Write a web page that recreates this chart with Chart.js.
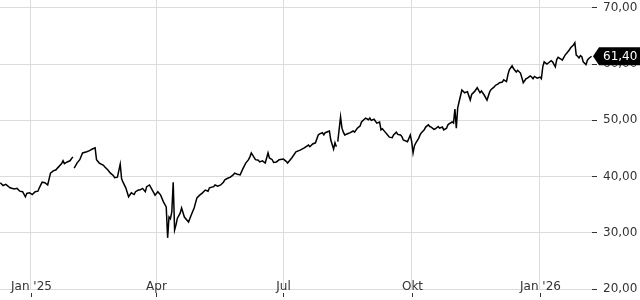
<!DOCTYPE html>
<html>
<head>
<meta charset="utf-8">
<script src="https://cdn.jsdelivr.net/npm/chart.js@4"></script>
<style>
  html, body { margin: 0; padding: 0; background: #fff; }
  canvas { display: block; }
</style>
</head>
<body>
<canvas id="chart" width="640" height="300"></canvas>
<script>
// days counted from 2025-01-01, closing prices
const dayOffsets = [
  -22, -20, -18, -15, -12, -10, -8, -6, -4, -3, -1, 1, 3, 5, 6, 8, 10, 12, 14, 16,
  18, 19, 22, 23, 24, 26, 28, 30, 30.5, 31, 33, 35, 37, 40, 42, 44, 46, 47, 49, 52,
  53, 55, 57, 59, 60, 62, 64, 65, 66, 68, 70, 72, 74, 75, 77, 78, 80, 82, 83, 85,
  87, 89, 91, 93, 95, 97, 98, 99, 100, 101, 102, 103, 104, 105, 107, 108, 110, 113, 115, 117,
  119, 121, 123, 125, 127, 128, 131, 132, 134, 136, 138, 139, 141, 143, 145, 146, 148, 150, 152, 154,
  156, 157, 158, 161, 163, 164, 166, 168, 170, 171, 173, 174, 176, 178, 181, 183, 184, 187, 190, 193,
  196, 199, 200, 202, 204, 206, 207, 209, 210, 211, 214, 215, 217, 218, 219, 219.5, 220, 222, 223, 224,
  225, 227, 229, 231, 232, 234, 236, 237, 239, 240, 242, 243, 244, 246, 248, 250, 251, 252, 254, 255,
  257, 259, 260, 262, 263, 265, 266, 267, 270, 272, 273, 274, 275, 276, 278, 279, 280, 282, 283, 285,
  286, 287, 289, 290, 292, 293, 295, 296, 298, 299, 300, 302, 303, 304, 305, 306, 307, 309, 311, 313,
  315, 316, 318, 320, 322, 323, 325, 327, 329, 330, 332, 333, 335, 336, 338, 339, 341, 342, 343, 345,
  346, 348, 349, 351, 352, 353, 355, 356, 358, 359, 360, 361, 363, 365, 366, 367, 368, 370, 371, 373,
  374, 376, 377, 378, 380, 381, 383, 384, 385, 386, 387, 389, 390, 391, 392, 393, 394, 395, 396, 398,
  399, 400, 402
];
const closes = [
  38.9, 38.4, 38.6, 38.0, 37.8, 37.9, 37.4, 37.3, 36.4, 37.0, 37.1, 36.8, 37.3, 37.4, 38.0, 39.0, 38.9, 38.5, 40.6, 41.0,
  41.2, 41.5, 42.3, 42.8, 42.3, 42.6, 42.8, 43.5, null, 41.5, 42.4, 43.0, 44.2, 44.4, 44.6, 44.9, 45.1, 43.0, 42.4, 42.0,
  41.7, 41.2, 40.6, 40.2, 39.8, 39.9, 42.2, 39.6, 39.0, 38.0, 36.4, 37.1, 36.8, 37.3, 37.6, 37.6, 37.9, 37.3, 38.2, 38.5,
  37.6, 36.7, 37.3, 36.7, 35.5, 34.6, 29.1, 32.8, 32.5, 33.7, 39.0, 30.5, 31.4, 32.6, 33.5, 34.4, 32.8, 31.9, 33.2, 34.4,
  36.2, 36.7, 37.1, 37.6, 37.4, 38.0, 38.2, 38.5, 38.3, 38.5, 39.0, 39.4, 39.7, 39.9, 40.3, 40.6, 40.4, 40.3, 41.4, 42.4,
  43.0, 43.5, 44.2, 43.0, 42.9, 42.6, 42.8, 42.4, 44.2, 43.3, 43.0, 42.5, 42.6, 43.0, 43.1, 42.7, 42.4, 43.3, 44.4, 44.7,
  45.1, 45.6, 45.3, 45.8, 46.0, 47.4, 47.6, 47.8, 47.4, 47.8, 48.1, 46.5, 44.9, 46.0, 45.3, null, 46.2, 50.6, 48.6, 47.9,
  47.4, 47.6, 47.8, 48.1, 47.9, 48.6, 49.0, 49.7, 50.2, 50.4, 50.1, 50.4, 50.0, 50.2, 49.5, 49.7, 48.3, 48.5, 47.9, 47.6,
  47.0, 46.9, 47.4, 47.9, 47.5, 47.4, 47.1, 46.5, 46.2, 47.4, 46.2, 44.2, 45.5, 46.0, 46.8, 47.4, 47.8, 48.3, 48.8, 49.2,
  48.9, 48.8, 48.4, 48.5, 48.9, 48.6, 48.8, 48.3, 48.6, 49.2, 49.4, 49.7, 49.5, 52.0, 48.6, 52.2, 53.3, 55.4, 54.9, 55.1,
  53.6, 54.6, 55.1, 55.8, 54.9, 55.2, 54.5, 53.6, 55.1, 55.5, 55.9, 56.2, 56.5, 56.7, 56.8, 57.2, 56.9, 58.1, 59.0, 59.7,
  59.2, 58.6, 58.9, 58.4, 57.6, 56.7, 57.4, 57.5, 57.9, 57.7, 57.4, 57.8, 57.5, 57.7, 57.4, 59.5, 60.4, 60.0, 60.2, 60.6,
  60.4, 59.5, 60.8, 61.2, 60.9, 60.7, 61.6, 61.9, 62.2, 62.5, 62.9, 63.4, 63.8, 61.6, 61.4, 61.1, 61.5, 61.3, 60.4, 59.9,
  60.7, 61.0, 61.4
];
const monthTicks = [0, 90, 181, 273, 365];
const monthLabels = ["Jan '25", "Apr", "Jul", "Okt", "Jan '26"];
const priceTicks = [20, 30, 40, 50, 60, 70];
const lastPrice = 61.40;

const fmt = v => v.toFixed(2).replace(".", ",");
const font = { family: "DejaVu Sans", size: 12 };

const points = dayOffsets.map((d, i) => ({ x: d, y: closes[i] }));

// month labels sit on the bottom grid line, small dark marks under them; last price box
const extras = {
  id: "extras",
  afterDraw(chart) {
    const { ctx, chartArea, scales } = chart;
    ctx.save();
    ctx.font = "12px 'DejaVu Sans'";
    ctx.textAlign = "center";
    ctx.textBaseline = "middle";
    ctx.strokeStyle = "#333";
    ctx.lineWidth = 1;
    monthTicks.forEach((t, i) => {
      const px = Math.round(scales.x.getPixelForValue(t)) + 0.5;
      ctx.fillStyle = "#333";
      ctx.fillText(monthLabels[i], px, chartArea.bottom - 2);
      ctx.beginPath();
      ctx.moveTo(px, chartArea.bottom + 4);
      ctx.lineTo(px, chartArea.bottom + 8);
      ctx.stroke();
    });
    const py = scales.y.getPixelForValue(lastPrice);
    const left = chartArea.right + 1;
    ctx.fillStyle = "#000";
    ctx.beginPath();
    ctx.moveTo(left, py);
    ctx.lineTo(left + 6, py - 9);
    ctx.lineTo(640, py - 9);
    ctx.lineTo(640, py + 9);
    ctx.lineTo(left + 6, py + 9);
    ctx.closePath();
    ctx.fill();
    ctx.fillStyle = "#fff";
    ctx.textAlign = "left";
    ctx.fillText(fmt(lastPrice), left + 10, py + 1);
    ctx.restore();
  }
};

new Chart(document.getElementById("chart"), {
  type: "line",
  data: {
    datasets: [{
      data: points,
      borderColor: "#000",
      borderWidth: 1.5,
      pointRadius: 0,
      tension: 0,
      spanGaps: false
    }]
  },
  options: {
    responsive: false,
    animation: false,
    devicePixelRatio: 1,
    plugins: { legend: { display: false }, tooltip: { enabled: false } },
    scales: {
      x: {
        type: "linear",
        min: -22.2,
        max: 402.3,
        afterBuildTicks: s => { s.ticks = monthTicks.map(v => ({ value: v })); },
        afterFit: s => { s.height = 11; s.paddingLeft = 0; s.paddingRight = 0; },
        grid: { color: "#dcdcdc", drawTicks: false },
        border: { display: false },
        ticks: { display: false }
      },
      y: {
        position: "right",
        min: 20,
        max: 71.4,
        afterBuildTicks: s => { s.ticks = priceTicks.map(v => ({ value: v })); },
        afterFit: s => { s.width = 48; s.paddingTop = 0; s.paddingBottom = 0; },
        grid: { color: "#dcdcdc", tickColor: "#333", tickLength: 5 },
        border: { display: false },
        ticks: { padding: 6, color: "#333", font, callback: v => fmt(v) }
      }
    }
  },
  plugins: [extras]
});
</script>
</body>
</html>
